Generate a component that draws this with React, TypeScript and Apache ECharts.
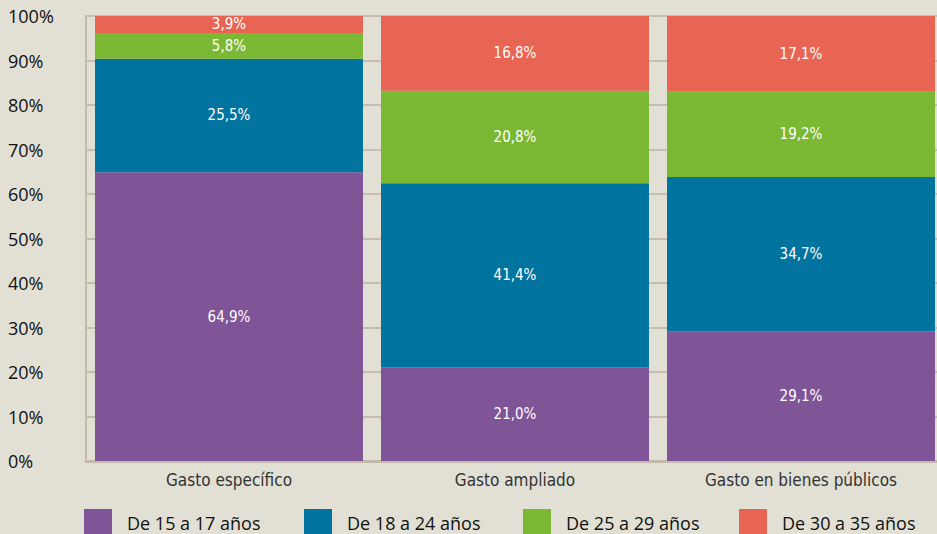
import React, { useEffect, useRef } from "react";
import * as echarts from "echarts";

const categories = ["Gasto específico", "Gasto ampliado", "Gasto en bienes públicos"];
const seriesNames = ["De 15 a 17 años", "De 18 a 24 años", "De 25 a 29 años", "De 30 a 35 años"];
const age15to17 = [64.9, 21.0, 29.1];
const age18to24 = [25.5, 41.4, 34.7];
const age25to29 = [5.8, 20.8, 19.2];
const age30to35 = [3.9, 16.8, 17.1];
const seriesValues = [age15to17, age18to24, age25to29, age30to35];
const colors = ["#7f5597", "#00739e", "#7bb833", "#e96553"];
const legendLefts = [84, 304, 523, 739];

const condensed = "'DejaVu Sans Condensed', 'Open Sans', sans-serif";

export default function App() {
  const ref = useRef<HTMLDivElement>(null);
  useEffect(() => {
    if (!ref.current) return;
    const chart = echarts.init(ref.current, undefined, { renderer: "svg" });
    chart.setOption({
      animation: false,
      backgroundColor: "#e2e0d4",
      grid: { left: 86, top: 16, width: 858, height: 445, containLabel: false, outerBoundsMode: "none" },
      xAxis: {
        type: "category",
        data: categories,
        axisLine: { show: true, lineStyle: { color: "#c4baab", width: 3 } },
        axisTick: { show: false },
        axisLabel: { color: "#333", fontSize: 17, fontFamily: condensed, margin: 10 },
      },
      yAxis: {
        type: "value",
        min: 0,
        max: 100,
        interval: 10,
        axisLine: { show: true, lineStyle: { color: "#c4baab", width: 2 } },
        axisTick: { show: false },
        splitLine: { show: true, lineStyle: { color: "#c6bdae", width: 2 } },
        axisLabel: {
          formatter: (v: number) => `${v}%`,
          color: "#111",
          fontSize: 18,
          fontFamily: "'Open Sans', sans-serif",
          align: "left",
          margin: 78,
          padding: [4, 0, 0, 0],
        },
      },
      legend: seriesNames.map((n, i) => ({
        data: [n],
        left: legendLefts[i],
        top: 509,
        padding: 0,
        itemWidth: 28,
        itemHeight: 28,
        icon: "rect",
        textStyle: {
          color: "#111",
          fontSize: 18,
          lineHeight: 18,
          fontFamily: "'Open Sans', sans-serif",
          padding: [0, 0, 0, 10],
        },
      })),
      series: seriesNames.map((n, i) => ({
        name: n,
        type: "bar",
        stack: "total",
        barWidth: 268,
        data: seriesValues[i],
        itemStyle: { color: colors[i] },
        label: {
          show: true,
          position: "inside",
          color: "#fff",
          fontSize: 15,
          fontFamily: condensed,
          formatter: (p: any) => `${Number(p.value).toFixed(1).replace(".", ",")}%`,
        },
      })),
    });
    return () => chart.dispose();
  }, []);
  return <div ref={ref} style={{ width: 937, height: 534, position: "absolute", left: 0, top: 0 }} />;
}
